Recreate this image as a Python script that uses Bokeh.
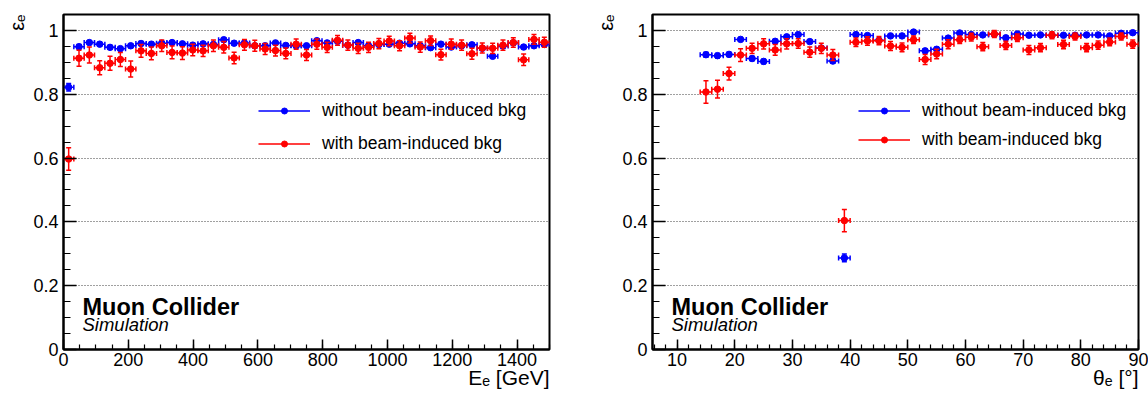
import numpy as np
from bokeh.plotting import figure
from bokeh.layouts import row
from bokeh.models import Range1d, Label, Legend, LegendItem, FixedTicker, ColumnDataSource, Title
from bokeh.embed import file_html
from bokeh.resources import INLINE

FONT = "Liberation Sans"
BLUE = "#0000ff"
RED = "#ff0000"

# ---------------- data: efficiency vs electron energy ----------------
energy_edges = np.linspace(0, 1500, 48)  # 47 bins
eff_E_nobib = [0.822, 0.949, 0.962, 0.957, 0.947, 0.943, 0.952, 0.959, 0.957, 0.960,
               0.962, 0.958, 0.954, 0.958, 0.956, 0.971, 0.960, 0.961, 0.952, 0.952,
               0.961, 0.953, 0.952, 0.952, 0.968, 0.961, 0.966, 0.954, 0.962, 0.952,
               0.956, 0.957, 0.960, 0.958, 0.952, 0.946, 0.957, 0.948, 0.952, 0.955,
               0.944, 0.919, 0.951, 0.961, 0.948, 0.952, 0.956]
err_E_nobib = [0.012, 0.007, 0.006, 0.006, 0.006, 0.006, 0.006, 0.006, 0.006, 0.006,
               0.006, 0.006, 0.006, 0.006, 0.006, 0.006, 0.006, 0.006, 0.006, 0.006,
               0.006, 0.006, 0.006, 0.006, 0.006, 0.006, 0.006, 0.006, 0.006, 0.006,
               0.006, 0.006, 0.006, 0.006, 0.006, 0.006, 0.006, 0.006, 0.006, 0.006,
               0.006, 0.006, 0.006, 0.006, 0.006, 0.006, 0.006]
eff_E_bib = [0.597, 0.913, 0.923, 0.883, 0.897, 0.909, 0.879, 0.936, 0.928, 0.952,
             0.931, 0.929, 0.939, 0.936, 0.952, 0.947, 0.914, 0.955, 0.952, 0.942,
             0.937, 0.928, 0.957, 0.923, 0.957, 0.947, 0.969, 0.954, 0.944, 0.947,
             0.959, 0.967, 0.952, 0.976, 0.948, 0.968, 0.924, 0.957, 0.954, 0.927,
             0.945, 0.944, 0.954, 0.962, 0.908, 0.972, 0.963]
err_E_bib = [0.035, 0.025, 0.025, 0.022, 0.022, 0.022, 0.025, 0.020, 0.020, 0.018,
             0.020, 0.020, 0.018, 0.018, 0.018, 0.018, 0.018, 0.017, 0.017, 0.017,
             0.017, 0.017, 0.016, 0.017, 0.016, 0.016, 0.015, 0.016, 0.016, 0.016,
             0.016, 0.015, 0.016, 0.015, 0.016, 0.015, 0.017, 0.016, 0.016, 0.017,
             0.016, 0.016, 0.016, 0.015, 0.018, 0.015, 0.016]

# ---------------- data: efficiency vs electron polar angle ----------------
theta_centers = [15, 17, 19, 21, 23, 25, 27, 29, 31, 33, 35, 37, 39, 41, 43, 45, 47, 49, 51,
                 53, 55, 57, 59, 61, 63, 65, 67, 69, 71, 73, 75, 77, 79, 81, 83, 85, 87, 89]
theta_half_width = 1.0
eff_T_nobib = [0.924, 0.921, 0.925, 0.972, 0.912, 0.903, 0.966, 0.980, 0.987, 0.965,
               0.945, 0.904, 0.287, 0.987, 0.984, 0.969, 0.983, 0.983, 0.995, 0.936,
               0.941, 0.976, 0.992, 0.987, 0.986, 0.988, 0.977, 0.989, 0.985, 0.986,
               0.985, 0.985, 0.985, 0.986, 0.986, 0.983, 0.991, 0.993]
err_T_nobib = [0.008, 0.007, 0.007, 0.006, 0.007, 0.007, 0.006, 0.005, 0.005, 0.006,
               0.006, 0.007, 0.012, 0.005, 0.005, 0.005, 0.005, 0.005, 0.004, 0.006,
               0.006, 0.005, 0.004, 0.005, 0.005, 0.005, 0.005, 0.005, 0.005, 0.005,
               0.005, 0.005, 0.005, 0.005, 0.005, 0.005, 0.004, 0.004]
eff_T_bib = [0.807, 0.816, 0.865, 0.923, 0.944, 0.958, 0.939, 0.958, 0.959, 0.932,
             0.944, 0.923, 0.404, 0.963, 0.967, 0.968, 0.951, 0.947, 0.971, 0.909,
             0.926, 0.957, 0.971, 0.979, 0.949, 0.989, 0.953, 0.977, 0.939, 0.946,
             0.985, 0.956, 0.981, 0.946, 0.954, 0.964, 0.981, 0.957]
err_T_bib = [0.035, 0.028, 0.020, 0.020, 0.016, 0.016, 0.017, 0.016, 0.015, 0.016,
             0.016, 0.017, 0.035, 0.013, 0.013, 0.013, 0.014, 0.014, 0.012, 0.016,
             0.015, 0.014, 0.012, 0.012, 0.013, 0.011, 0.013, 0.012, 0.014, 0.013,
             0.011, 0.013, 0.011, 0.013, 0.013, 0.012, 0.011, 0.013]

y_ticks = [0, 0.2, 0.4, 0.6, 0.8, 1.0]
y_tick_labels = ["0", "0.2", "0.4", "0.6", "0.8", "1"]
y_minor = [0.05 * i for i in range(22)]

E_ticks = [0, 200, 400, 600, 800, 1000, 1200, 1400]
E_minor = list(range(0, 1501, 50))
T_ticks = [10, 20, 30, 40, 50, 60, 70, 80, 90]
T_minor = list(range(6, 91, 2))

label_nobib = "without beam-induced bkg"
label_bib = "with beam-induced bkg"
y_title = "εₑ"
E_title = "Eₑ [GeV]"
T_title = "θₑ [°]"


def make_panel(xc, xhw, series, x_range, x_ticks, x_minor, width, b_left, b_right,
               legend_loc, legend_spacing, x_title):
    p = figure(width=width, height=394, output_backend="svg", toolbar_location=None,
               x_range=Range1d(*x_range), y_range=Range1d(0, 1.05),
               min_border_left=b_left, min_border_right=b_right,
               min_border_top=14, min_border_bottom=45)
    p.background_fill_color = "white"
    p.border_fill_color = "white"
    p.outline_line_color = "black"
    p.outline_line_width = 2
    p.outline_line_alpha = 1.0

    yt = FixedTicker(ticks=y_ticks, minor_ticks=y_minor)
    xt = FixedTicker(ticks=x_ticks, minor_ticks=x_minor)
    p.yaxis.ticker = yt
    p.xaxis.ticker = xt
    p.yaxis.major_label_overrides = dict(zip(y_ticks, y_tick_labels))
    p.xgrid.visible = False
    p.ygrid.ticker = yt
    p.ygrid.grid_line_color = "black"
    p.ygrid.grid_line_alpha = 0.75
    p.ygrid.grid_line_dash = "1 2"
    p.ygrid.grid_line_width = 1

    for ax in (p.xaxis[0], p.yaxis[0]):
        ax.axis_line_width = 2
        ax.axis_line_color = "black"
        ax.major_tick_out = 0
        ax.minor_tick_out = 0
        ax.major_tick_line_width = 1.5
        ax.minor_tick_line_width = 1.2
        ax.major_tick_line_color = "black"
        ax.minor_tick_line_color = "black"
        ax.major_label_text_font = FONT
        ax.major_label_text_font_size = "18px"
        ax.major_label_text_color = "black"
    p.yaxis.major_tick_in = 13
    p.yaxis.minor_tick_in = 7
    p.yaxis.major_label_standoff = 5
    p.xaxis.major_tick_in = 10
    p.xaxis.minor_tick_in = 5
    p.xaxis.major_label_standoff = 3

    items = []
    for yv, ev, color, lab in series:
        x = np.array(xc, dtype=float)
        y = np.array(yv, dtype=float)
        e = np.array(ev, dtype=float)
        src = ColumnDataSource(dict(x=x, y=y, x0=x - xhw, x1=x + xhw, y0=y - e, y1=y + e))
        r_h = p.segment("x0", "y", "x1", "y", source=src, line_color=color, line_width=1.5)
        p.segment("x", "y0", "x", "y1", source=src, line_color=color, line_width=1.5)
        for cx, cy, ang in (("x0", "y", np.pi / 2), ("x1", "y", np.pi / 2),
                            ("x", "y0", 0), ("x", "y1", 0)):
            p.scatter(cx, cy, source=src, marker="dash", angle=ang, size=5,
                      line_color=color, line_width=1.5)
        r_m = p.scatter("x", "y", source=src, marker="circle", size=6.5,
                        fill_color=color, line_color=color)
        items.append(LegendItem(label=lab, renderers=[r_h, r_m]))

    leg = Legend(items=items, location=legend_loc, border_line_alpha=0,
                 background_fill_alpha=0, padding=0, margin=0, spacing=legend_spacing,
                 glyph_width=52, glyph_height=15, label_height=20, label_standoff=12,
                 label_text_font=FONT, label_text_font_size="17.5px",
                 label_text_color="black")
    p.add_layout(leg)

    # experiment label (inside the frame)
    p.add_layout(Label(x=19, y=43, x_units="screen", y_units="screen", text="Muon Collider",
                       text_font=FONT, text_font_style="bold", text_font_size="23.5px",
                       text_color="black", text_baseline="alphabetic"))
    p.add_layout(Label(x=19, y=25, x_units="screen", y_units="screen", text="Simulation",
                       text_font=FONT, text_font_style="italic", text_font_size="18.5px",
                       text_color="black", text_baseline="alphabetic"))

    # axis titles, aligned to the top / right end of the axes
    p.add_layout(Title(text=y_title, align="right", vertical_align="bottom",
                       text_font=FONT, text_font_style="normal", text_font_size="20px",
                       text_color="black", standoff=6, offset=0), "left")
    p.add_layout(Title(text=x_title, align="right", vertical_align="top",
                       text_font=FONT, text_font_style="normal", text_font_size="21px",
                       text_color="black", standoff=-6, offset=0), "below")
    return p


E_centers = 0.5 * (energy_edges[:-1] + energy_edges[1:])
E_half = 0.5 * (energy_edges[1] - energy_edges[0])

p1 = make_panel(E_centers, E_half,
                [(eff_E_nobib, err_E_nobib, BLUE, label_nobib),
                 (eff_E_bib, err_E_bib, RED, label_bib)],
                (0, 1500), E_ticks, E_minor, 588, 63, 39,
                (195, 195), 12, E_title)

p2 = make_panel(theta_centers, theta_half_width,
                [(eff_T_nobib, err_T_nobib, BLUE, label_nobib),
                 (eff_T_bib, err_T_bib, RED, label_bib)],
                (5.73, 90), T_ticks, T_minor, 560, 64, 10,
                (206, 199), 8, T_title)

layout = row(p1, p2)
open("out.html", "w").write(file_html(layout, INLINE))
